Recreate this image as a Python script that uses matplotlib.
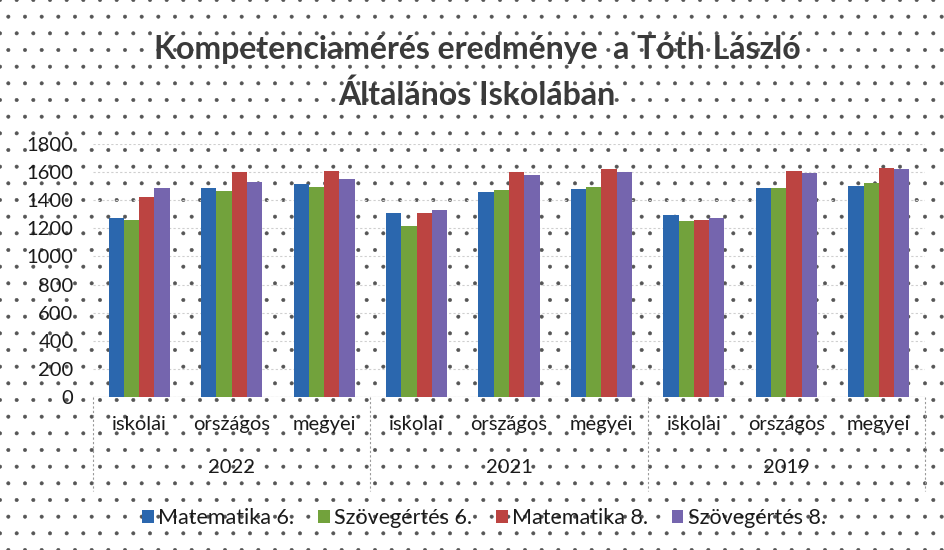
import matplotlib
matplotlib.use("Agg")
import matplotlib.pyplot as plt
import numpy as np
from matplotlib.patches import Rectangle
from matplotlib.transforms import blended_transform_factory

years = ["2022", "2021", "2019"]
levels = ["iskolai", "országos", "megyei"]
series_names = ["Matematika 6.", "Szövegértés 6.", "Matematika 8.", "Szövegértés 8."]
mat6 = [1276, 1490, 1513, 1307, 1461, 1480, 1295, 1485, 1503]
szov6 = [1259, 1466, 1496, 1217, 1473, 1496, 1254, 1485, 1520]
mat8 = [1425, 1599, 1610, 1307, 1599, 1620, 1259, 1610, 1627]
szov8 = [1485, 1528, 1549, 1330, 1580, 1599, 1276, 1596, 1620]
yticks = [0, 200, 400, 600, 800, 1000, 1200, 1400, 1600, 1800]

colors = ["#2B67AE", "#72A23C", "#BC4441", "#7565AE"]
FONT = ["Lato", "DejaVu Sans"]
plt.rcParams["font.family"] = FONT
plt.rcParams["hatch.linewidth"] = 0.4

fig = plt.figure(figsize=(9.45, 5.5), dpi=100)
bg = Rectangle((0, 0), 1, 1, transform=fig.transFigure, facecolor="white",
               edgecolor="#555555", hatch=".", linewidth=0, zorder=-10)
fig.patches.append(bg)

ax = fig.add_axes([93/945, 1-397/550, (925-93)/945, (397-144)/550])
ax.set_facecolor("none")

data = [mat6, szov6, mat8, szov8]
n = len(mat6)
x = np.arange(n)
bw = 0.165
for i, (vals, c, name) in enumerate(zip(data, colors, series_names)):
    ax.bar(x + (i - 1.5) * bw, vals, width=bw, color=c, label=name, zorder=3)

ax.set_xlim(-0.5, n - 0.5)
ax.set_ylim(0, 1800)
ax.set_yticks(yticks)
ax.set_yticklabels([str(v) for v in yticks], fontsize=14.5, color="#1a1a1a")
ax.tick_params(axis="y", length=0, pad=14)
ax.set_xticks([])
ax.yaxis.grid(True, color="#cfcfcf", linestyle=(0, (2, 2)), linewidth=0.8, zorder=0)
for s in ax.spines.values():
    s.set_visible(False)
ax.axhline(0, color="#bbbbbb", linewidth=0.8, zorder=2)

trans = blended_transform_factory(ax.transData, ax.transAxes)
cats = [lvl for _ in years for lvl in levels]
for xi, lab in zip(x, cats):
    ax.text(xi, -0.11, lab, transform=trans, ha="center", va="center",
            fontsize=14.5, color="#1a1a1a")
for j, yr in enumerate(years):
    ax.text(j * 3 + 1, -0.28, yr, transform=trans, ha="center", va="center",
            fontsize=14.5, color="#1a1a1a")
for b in [-0.5, 2.5, 5.5, 8.5]:
    ax.plot([b, b], [0, -0.37], transform=trans, color="#999999",
            linestyle=(0, (2, 2)), linewidth=0.8, clip_on=False)

fig.text(0.505, 1-50/550, "Kompetenciamérés eredménye  a Tóth László",
         ha="center", va="center", fontsize=23, fontweight="bold", color="#3a3a3a")
fig.text(0.505, 1-95/550, "Általános Iskolában",
         ha="center", va="center", fontsize=23, fontweight="bold", color="#3a3a3a")

fig.legend(loc="center", bbox_to_anchor=(0.512, 1-518/550), ncol=4, frameon=False,
           fontsize=15.5, handlelength=0.55, handleheight=0.55, handletextpad=0.2,
           columnspacing=1.1, labelcolor="#1a1a1a")

fig.savefig("out.png", dpi=100)
